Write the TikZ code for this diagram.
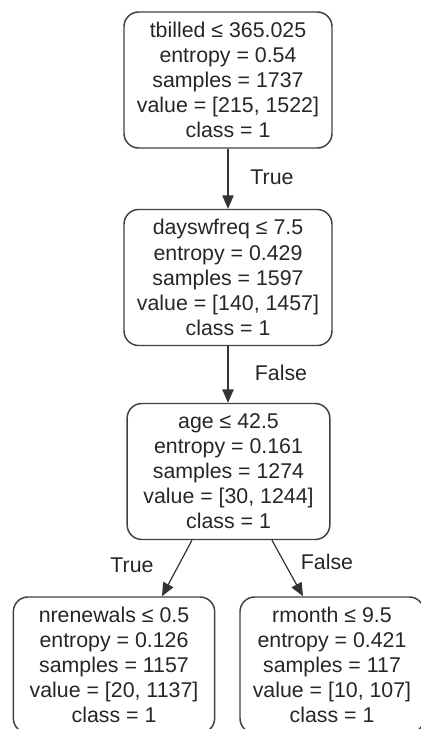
\documentclass[tikz,border=0pt]{standalone}
\usepackage{fontspec}
\setmainfont{Liberation Sans}
\usetikzlibrary{positioning,arrows.meta}

\begin{document}
\begin{tikzpicture}[
    x=0.75pt, y=-0.75pt,
    >={Triangle[length=10pt,width=8.5pt]},
    split/.style={draw=black!75, line width=1.1pt, rounded corners=11pt,
      align=center, inner sep=0pt, minimum height=102pt,
      font=\fontsize{16}{18.8}\selectfont, text=black!85},
    lbl/.style={font=\fontsize{16}{18.8}\selectfont, text=black!85},
    edge/.style={->, draw=black!80, line width=0.9pt}
]

  % cornice
  \useasboundingbox (0,0) rectangle (421,729);
  \clip (0,0) rectangle (421,729);

  % nodi
  \node[split, minimum width=156pt] (root) at (228,80)
    {tbilled ≤ 365.025\\entropy = 0.54\\samples = 1737\\value = [215, 1522]\\class = 1};
  \node[split, minimum width=156pt] (days) at (228,277.5)
    {dayswfreq ≤ 7.5\\entropy = 0.429\\samples = 1597\\value = [140, 1457]\\class = 1};
  \node[split, minimum width=152pt] (age) at (228.5,471.5)
    {age ≤ 42.5\\entropy = 0.161\\samples = 1274\\value = [30, 1244]\\class = 1};
  \node[split, minimum width=151pt] (nren) at (114,665)
    {nrenewals ≤ 0.5\\entropy = 0.126\\samples = 1157\\value = [20, 1137]\\class = 1};
  \node[split, minimum width=138pt] (rmon) at (332,665)
    {rmonth ≤ 9.5\\entropy = 0.421\\samples = 117\\value = [10, 107]\\class = 1};

  % archi
  \draw[edge] (root.south) -- (root.south |- days.north);
  \node[lbl] (t1) at (272,177) {True};

  \draw[edge] (days.south) -- (days.south |- age.north);
  \node[lbl] (f1) at (281,373) {False};

  \draw[edge] ([xshift=-27.4pt]age.south) -- ([xshift=36pt]nren.north);
  \node[lbl] (t2) at (132,565) {True};

  \draw[edge] ([xshift=32.6pt]age.south) -- ([xshift=-21.75pt]rmon.north);
  \node[lbl] (f2) at (327,562) {False};

\end{tikzpicture}
\end{document}
